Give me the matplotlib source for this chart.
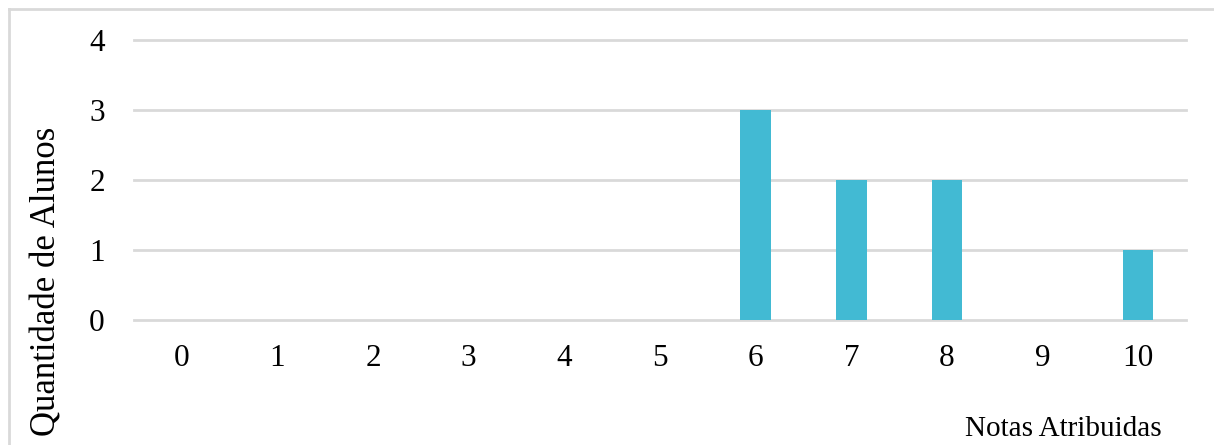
import matplotlib
matplotlib.use("Agg")
import matplotlib.pyplot as plt
from matplotlib.lines import Line2D

notas = [0, 1, 2, 3, 4, 5, 6, 7, 8, 9, 10]
alunos = [0, 0, 0, 0, 0, 0, 3, 2, 2, 0, 1]
y_ticks = [0, 1, 2, 3, 4]

plt.rcParams['font.family'] = ['Liberation Serif', 'DejaVu Serif']

W, H = 1214, 445
fig = plt.figure(figsize=(W / 100, H / 100), dpi=100)
ax = fig.add_axes([134 / W, 1 - 320 / H, (1186 - 134) / W, 280 / H])

ax.bar(notas, alunos, width=0.32, color='#42BAD3', zorder=3)
ax.set_xlim(-0.5, 10.5)
ax.set_ylim(0, 4)
ax.set_xticks(notas)
ax.set_yticks(y_ticks)
ax.tick_params(axis='both', length=0, labelsize=22.5, colors='black')
ax.tick_params(axis='x', pad=17)
ax.tick_params(axis='y', pad=21)
ax.yaxis.grid(True, color='#D9D9D9', linewidth=2)
for gl in ax.get_ygridlines():
    gl.set_clip_on(False)
ax.set_axisbelow(True)
for s in ax.spines.values():
    s.set_visible(False)

fig.text(47 / W, 1 - 281 / H, 'Quantidade de Alunos', rotation=90,
         ha='center', va='center', fontsize=25)
fig.text(1063 / W, 1 - 429 / H, 'Notas Atribuidas', ha='center',
         va='center', fontsize=21)

# borda cinza do grafico (topo e esquerda)
fig.add_artist(Line2D([9 / W, 9 / W], [0, 1 - 9 / H], transform=fig.transFigure,
                      color='#D9D9D9', linewidth=2))
fig.add_artist(Line2D([9 / W, 1], [1 - 9 / H, 1 - 9 / H], transform=fig.transFigure,
                      color='#D9D9D9', linewidth=2))

fig.savefig('out.png', dpi=100)
